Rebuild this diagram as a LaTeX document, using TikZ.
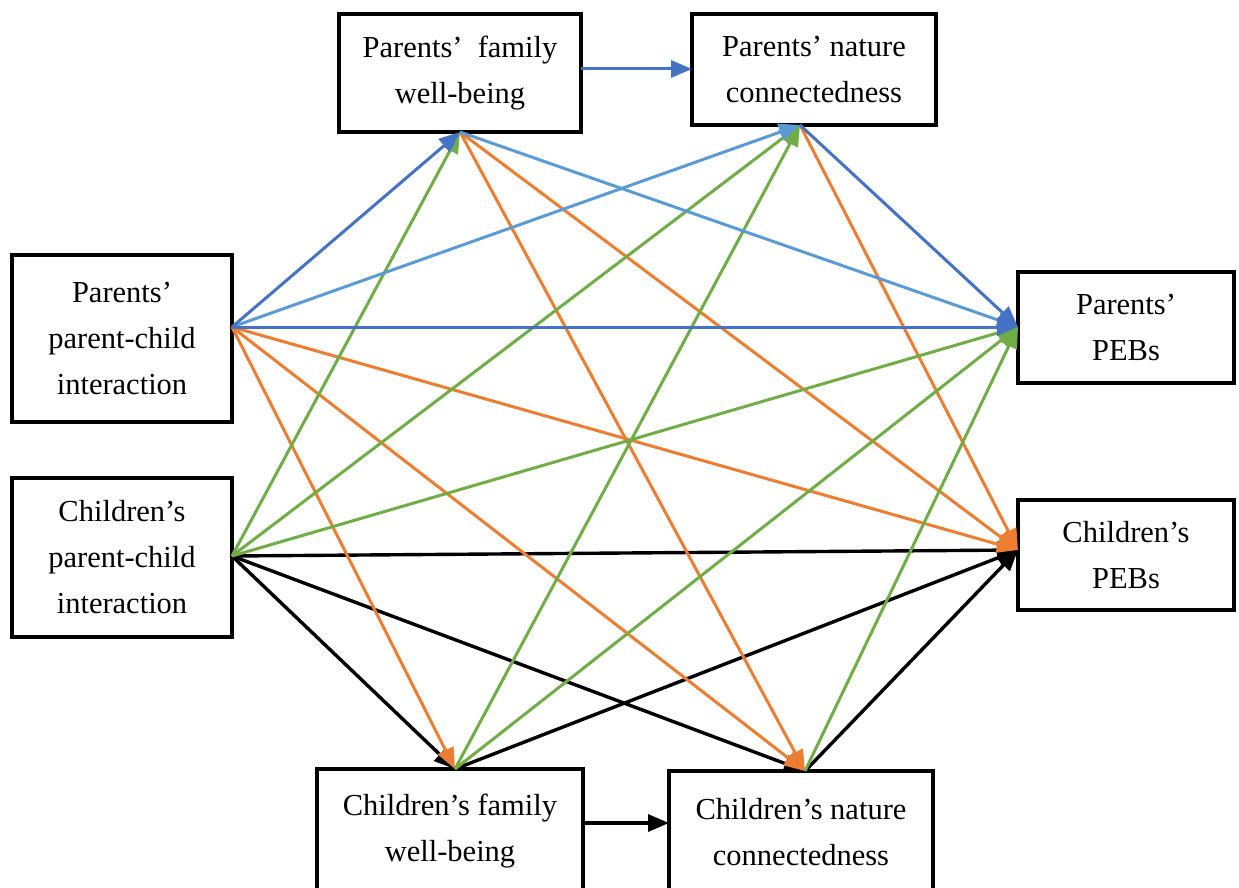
\documentclass[tikz,border=0pt]{standalone}
\usepackage{fontspec}
\setmainfont{Liberation Serif}
\usetikzlibrary{arrows.meta}
\definecolor{dblue}{HTML}{4472C4}
\definecolor{lblue}{HTML}{5B9BD5}
\definecolor{orng}{HTML}{ED7D31}
\definecolor{grn}{HTML}{70AD47}
\begin{document}
\begin{tikzpicture}[x=1pt,y=-1pt,
  box/.style={draw=black, line width=3.2pt, align=center, inner sep=0pt,
    font=\fontsize{30.5}{46}\selectfont},
  conn/.style={line width=3pt},
  cdb/.style={conn, draw=dblue, -{Triangle[length=21pt,width=17pt,fill=dblue]}},
  clb/.style={conn, draw=lblue, -{Triangle[length=21pt,width=17pt,fill=lblue]}},
  cor/.style={conn, draw=orng, -{Triangle[length=21pt,width=17pt,fill=orng]}},
  cgr/.style={conn, draw=grn, -{Triangle[length=21pt,width=17pt,fill=grn]}},
  cbk/.style={conn, line width=3.4pt, draw=black, -{Triangle[length=21pt,width=17pt,fill=black]}}]
\useasboundingbox (0,0) rectangle (1239,888);

% boxes
\node[box, minimum width=242pt, minimum height=118pt] (pfw) at (460,73) {Parents’\ \ family\\well-being};
\node[box, minimum width=244pt, minimum height=111pt] (pnc) at (814,69.5) {Parents’ nature\\connectedness};
\node[box, minimum width=220pt, minimum height=167pt] (ppci) at (122,338.5) {Parents’\\parent-child\\interaction};
\node[box, minimum width=220pt, minimum height=159pt] (cpci) at (122,557.5) {Children’s\\parent-child\\interaction};
\node[box, minimum width=216pt, minimum height=111pt] (ppeb) at (1126,327.5) {Parents’\\PEBs};
\node[box, minimum width=216pt, minimum height=110pt] (cpeb) at (1126,555) {Children’s\\PEBs};
\node[box, minimum width=266pt, minimum height=125pt] (cfw) at (450,831.5) {Children’s family\\well-being};
\node[box, minimum width=264pt, minimum height=122pt] (cnc) at (801,832) {Children’s nature\\connectedness};

% connection points
\coordinate (ppciE) at (232,327);
\coordinate (cpciE) at (232,556);
\coordinate (pfwS) at (460,132);
\coordinate (pncS) at (800,125);
\coordinate (ppebW) at (1018,327);
\coordinate (cpebW) at (1018,550);
\coordinate (cfwN) at (455,769);
\coordinate (cncN) at (805,771);
\coordinate (pfwR) at (581,69);
\coordinate (pncL) at (692,69);
\coordinate (cfwR) at (583,823);
\coordinate (cncL) at (669,823);

% black
\draw[cbk] (cpciE) -- (cpebW);
\draw[cbk] (cpciE) -- (cncN);
\draw[cbk] (cpciE) -- (cfwN);
\draw[cbk] (cfwR) -- (cncL);
\draw[cbk] (cfwN) -- (cpebW);
\draw[cbk] (cncN) -- (cpebW);

% orange
\draw[cor] (ppciE) -- (cfwN);
\draw[cor] (ppciE) -- (cncN);
\draw[cor] (ppciE) -- (cpebW);
\draw[cor] (pfwS) -- (cncN);
\draw[cor] (pfwS) -- (cpebW);
\draw[cor] (pncS) -- (cpebW);

% green
\draw[cgr] (cpciE) -- (pfwS);
\draw[cgr] (cpciE) -- (pncS);
\draw[cgr] (cpciE) -- (ppebW);
\draw[cgr] (cfwN) -- (pncS);
\draw[cgr] (cfwN) -- (ppebW);
\draw[cgr] (cncN) -- (ppebW);

% light blue
\draw[clb] (ppciE) -- (pncS);
\draw[clb] (pfwS) -- (ppebW);

% dark blue
\draw[cdb] (ppciE) -- (pfwS);
\draw[cdb] (ppciE) -- (ppebW);
\draw[cdb] (pfwR) -- (pncL);
\draw[cdb] (pncS) -- (ppebW);
\end{tikzpicture}
\end{document}
